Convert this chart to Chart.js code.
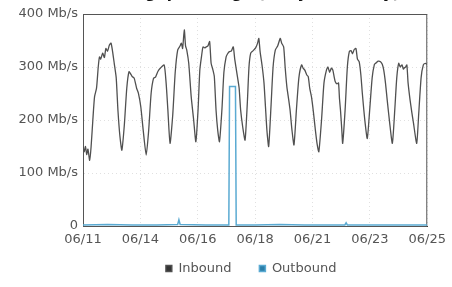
<!DOCTYPE html>
<html>
<head>
<meta charset="utf-8">
<script src="https://cdn.jsdelivr.net/npm/chart.js@4/dist/chart.umd.min.js"></script>
<style>
    body { margin: 0; background: #fff; overflow: hidden; }
    #wrap { position: relative; width: 452px; height: 287px; }
    #title { position: absolute; left: 96px; top: -16px; font: bold 15px "DejaVu Sans", sans-serif; color: #111; }
</style>
</head>
<body>
<div id="wrap">
    <div id="title">Throughput Usage (Daily Summary)</div>
    <canvas id="chart" width="452" height="287"></canvas>
</div>
<script>
// x positions are days since 06/11, values in Mb/s
const dateLabels = ['06/11', '06/14', '06/16', '06/18', '06/21', '06/23', '06/25'];
const yTicks = [0, 100, 200, 300, 400];

const inboundDays = [
    0, 0.05, 0.1, 0.15, 0.2, 0.27, 0.33, 0.4, 0.47, 0.55, 0.62, 0.67, 0.72, 0.8, 0.87, 0.93, 1.0, 1.07, 1.14, 1.2, 1.27, 1.35, 1.42, 1.5, 1.58,
    1.68, 1.78, 1.87, 1.95, 2.0, 2.08, 2.18, 2.25, 2.35, 2.45, 2.57,
    2.67, 2.77, 2.87, 2.95, 3.05, 3.15, 3.3, 3.38, 3.45, 3.54,
    3.65, 3.75, 3.85, 3.95, 4.0, 4.05, 4.12, 4.17, 4.22, 4.3, 4.4, 4.5, 4.59,
    4.68, 4.75, 4.82, 4.88, 4.95, 5.01, 5.08, 5.15, 5.21, 5.28, 5.34, 5.41, 5.48, 5.55,
    5.65, 5.73, 5.82, 5.88, 5.95, 6.03, 6.11, 6.17, 6.28, 6.35, 6.41, 6.5, 6.59,
    6.68, 6.75, 6.82, 6.9, 7.02, 7.1, 7.15, 7.2, 7.29, 7.36, 7.42, 7.48, 7.55,
    7.65, 7.73, 7.82, 7.92, 8.02, 8.08, 8.16, 8.22, 8.29, 8.36, 8.42, 8.5, 8.58,
    8.68, 8.78, 8.89, 8.95, 9.02, 9.1, 9.16, 9.22, 9.29, 9.37, 9.45, 9.52, 9.59,
    9.7, 9.8, 9.9, 9.96, 10.03, 10.1, 10.16, 10.22, 10.26, 10.33, 10.39, 10.43, 10.47, 10.52, 10.56,
    10.66, 10.75, 10.83, 10.9, 10.96, 11.03, 11.1, 11.16, 11.23, 11.3, 11.36, 11.46, 11.56,
    11.66, 11.76, 11.85, 11.9, 12.0, 12.1, 12.17, 12.23, 12.3, 12.37, 12.47, 12.58,
    12.68, 12.76, 12.84, 12.9, 12.97, 13.03, 13.06, 13.12, 13.17, 13.22, 13.3, 13.37, 13.44, 13.57,
    13.65, 13.75, 13.84, 13.92, 14.0
];
const inboundValues = [
    150, 140, 150, 135, 145, 124, 150, 200, 244, 260, 300, 319, 315, 326, 318, 335, 330, 341, 345, 330, 307, 280, 219, 170, 143,
    190, 260, 291, 286, 282, 279, 260, 251, 225, 180, 134,
    180, 250, 279, 281, 292, 298, 304, 270, 220, 156,
    210, 290, 332, 340, 345, 335, 370, 340, 332, 307, 244, 200, 159,
    220, 294, 320, 338, 336, 338, 340, 348, 307, 295, 282, 219, 180, 159,
    220, 290, 319, 325, 329, 330, 338, 315, 282, 260, 219, 185, 162,
    230, 300, 326, 330, 336, 345, 354, 330, 300, 270, 225, 180, 150,
    230, 300, 332, 340, 354, 345, 338, 300, 263, 240, 219, 180, 153,
    220, 280, 304, 298, 294, 285, 282, 260, 244, 215, 181, 155, 140,
    200, 270, 294, 300, 290, 298, 294, 280, 272, 268, 270, 240, 219, 185, 156,
    220, 300, 329, 331, 325, 333, 335, 315, 310, 285, 250, 200, 165,
    220, 280, 305, 307, 311, 310, 305, 294, 270, 238, 195, 156,
    220, 280, 307, 300, 304, 296, 298, 300, 304, 270, 238, 215, 194, 156,
    210, 280, 304, 307, 305
];

const outboundDays = [0, 1, 2, 3, 3.85, 3.9, 3.95, 5, 5.93, 5.96, 6.2, 6.23, 7, 8, 9, 10, 10.65, 10.7, 10.75, 12, 13, 14];
const outboundValues = [2, 3, 2, 2, 3, 12, 3, 2, 2, 263, 263, 2, 2, 3, 2, 2, 2, 6, 2, 2, 2, 2];

const toPoints = (xs, ys) => xs.map((x, i) => ({ x: x, y: ys[i] }));

const axisFont = { family: '"DejaVu Sans", sans-serif', size: 13 };
const gridColor = 'rgba(0, 0, 0, 0.12)';

// frame around the plot area (top and right sides too)
const frame = {
    id: 'frame',
    beforeDatasetsDraw(chart) {
        const { ctx, chartArea: a } = chart;
        ctx.save();
        ctx.strokeStyle = '#555';
        ctx.lineWidth = 1;
        ctx.strokeRect(a.left + 0.5, a.top + 0.5, a.right - a.left - 1, a.bottom - a.top);
        ctx.restore();
    }
};

// legend sits closer to the axis labels and is centred under the plot
const legendPlace = {
    id: 'legendPlace',
    afterInit(chart) {
        const lg = chart.legend;
        const fit = lg.fit.bind(lg);
        lg.fit = function () {
            fit();
            this.height = 36;
        };
    },
    afterLayout(chart) {
        const lg = chart.legend;
        lg.left = chart.chartArea.left - 4;
        lg.right = chart.chartArea.right - 4;
        lg.top = 234;
        lg.bottom = 287;
    }
};

new Chart(document.getElementById('chart'), {
    type: 'line',
    data: {
        datasets: [
            {
                label: 'Inbound',
                data: toPoints(inboundDays, inboundValues),
                borderColor: '#505050',
                backgroundColor: '#333',
                borderWidth: 1.3,
                pointRadius: 0,
                tension: 0.2
            },
            {
                label: 'Outbound',
                data: toPoints(outboundDays, outboundValues),
                borderColor: '#5aaad2',
                backgroundColor: '#2a7ea8',
                borderWidth: 1.5,
                pointRadius: 0,
                tension: 0
            }
        ]
    },
    options: {
        responsive: false,
        animation: false,
        layout: { padding: { top: 14, right: 20, left: 0, bottom: 0 } },
        plugins: {
            tooltip: { enabled: false },
            legend: {
                position: 'bottom',
                labels: {
                    usePointStyle: true,
                    pointStyle: 'rect',
                    boxWidth: 6,
                    boxHeight: 6,
                    padding: 28,
                    color: '#555',
                    font: axisFont
                }
            }
        },
        scales: {
            x: {
                type: 'linear',
                min: 0,
                max: 14,
                afterBuildTicks(scale) {
                    scale.ticks = dateLabels.map((l, i) => ({ value: i * 14 / (dateLabels.length - 1) }));
                },
                afterFit(scale) { scale.height = 25; },
                ticks: {
                    autoSkip: false,
                    maxRotation: 0,
                    padding: 6,
                    color: '#555',
                    font: axisFont,
                    callback: (v, i) => dateLabels[i]
                },
                grid: { color: gridColor, drawTicks: false },
                border: { dash: [1, 3], color: '#333' }
            },
            y: {
                min: 0,
                max: 400,
                afterBuildTicks(scale) {
                    scale.ticks = yTicks.map(v => ({ value: v }));
                },
                afterFit(scale) { scale.width = 83; },
                ticks: {
                    padding: 5,
                    color: '#555',
                    font: axisFont,
                    callback: v => v === 0 ? '0' : v + ' Mb/s'
                },
                grid: { color: gridColor, drawTicks: false },
                border: { dash: [1, 3], color: '#333' }
            }
        }
    },
    plugins: [frame, legendPlace]
});
</script>
</body>
</html>
